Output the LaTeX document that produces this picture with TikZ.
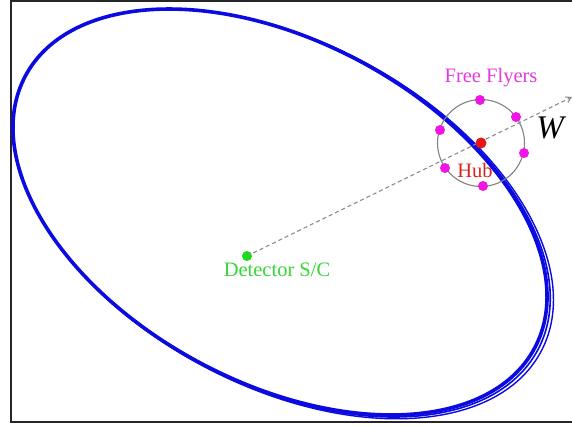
\documentclass[tikz,border=0pt]{standalone}
\usepackage{fontspec}
\setmainfont{Liberation Serif}
\usetikzlibrary{arrows.meta}
\definecolor{orbitblue}{RGB}{10,10,225}
\definecolor{ffmag}{RGB}{240,20,230}
\definecolor{fftext}{RGB}{225,60,220}
\definecolor{hubred}{RGB}{235,20,20}
\definecolor{hubtext}{RGB}{215,35,35}
\definecolor{detgreen}{RGB}{20,225,20}
\definecolor{dettext}{RGB}{55,215,55}
\definecolor{ringgray}{RGB}{130,130,130}
\definecolor{dashgray}{RGB}{140,140,140}
\begin{document}
\begin{tikzpicture}[x=1pt,y=-1pt,
  orbit/.style={draw=orbitblue},
  flyer/.style={circle,fill=ffmag,inner sep=0pt,minimum size=10pt},
  hubdot/.style={circle,fill=hubred,inner sep=0pt,minimum size=11pt},
  detdot/.style={circle,fill=detgreen,inner sep=0pt,minimum size=10pt},
  lbl/.style={inner sep=0pt,font=\fontsize{20.5}{24}\selectfont},
  ringstyle/.style={circle,draw=ringgray,line width=1.1pt,inner sep=0pt,minimum size=87pt}
]
\useasboundingbox (0,0) rectangle (572,426);
\fill[white] (0,0) rectangle (572,426);
% frame
\draw[line width=2pt,black!85] (572,0.8) -- (11,0.8) -- (11,422) -- (572,422);
% orbits
\draw[orbit,line width=3.6pt,rotate around={-28.15:(280,212)}] (280,212) ellipse [x radius=288.7, y radius=170.7];
\draw[orbit,line width=1.6pt,rotate around={-28.15:(281.6,213)}] (281.6,213) ellipse [x radius=290.5, y radius=171.4];
\draw[orbit,line width=1.4pt,rotate around={-28.15:(283.2,213.8)}] (283.2,213.8) ellipse [x radius=292.3, y radius=172];
% ring of free flyers
\node[ringstyle] (ring) at (481,143) {};
% dashed direction line
\node[detdot] (det) at (247,256) {};
\coordinate (wend) at (572,97);
\draw[dashgray,line width=1.1pt,dash pattern=on 4pt off 3pt,-{Straight Barb[length=5pt,width=6pt]}] (det.center) -- (wend);
% dots
\node[hubdot] (hub) at (481,143) {};
\node[flyer] (f1) at (480,100) {};
\node[flyer] (f2) at (516,117) {};
\node[flyer] (f3) at (440,130) {};
\node[flyer] (f4) at (524,153) {};
\node[flyer] (f5) at (445,168) {};
\node[flyer] (f6) at (483,186) {};
% labels
\node[lbl,text=fftext] (fflbl) at (491,78) {Free Flyers};
\node[lbl,text=hubtext] (hublbl) at (475,170) {Hub};
\node[lbl,text=dettext] (detlbl) at (277,270) {Detector S/C};
\node[inner sep=0pt,font=\fontsize{33}{36}\selectfont\itshape] (wlbl) at (550,128) {W};
\end{tikzpicture}
\end{document}
